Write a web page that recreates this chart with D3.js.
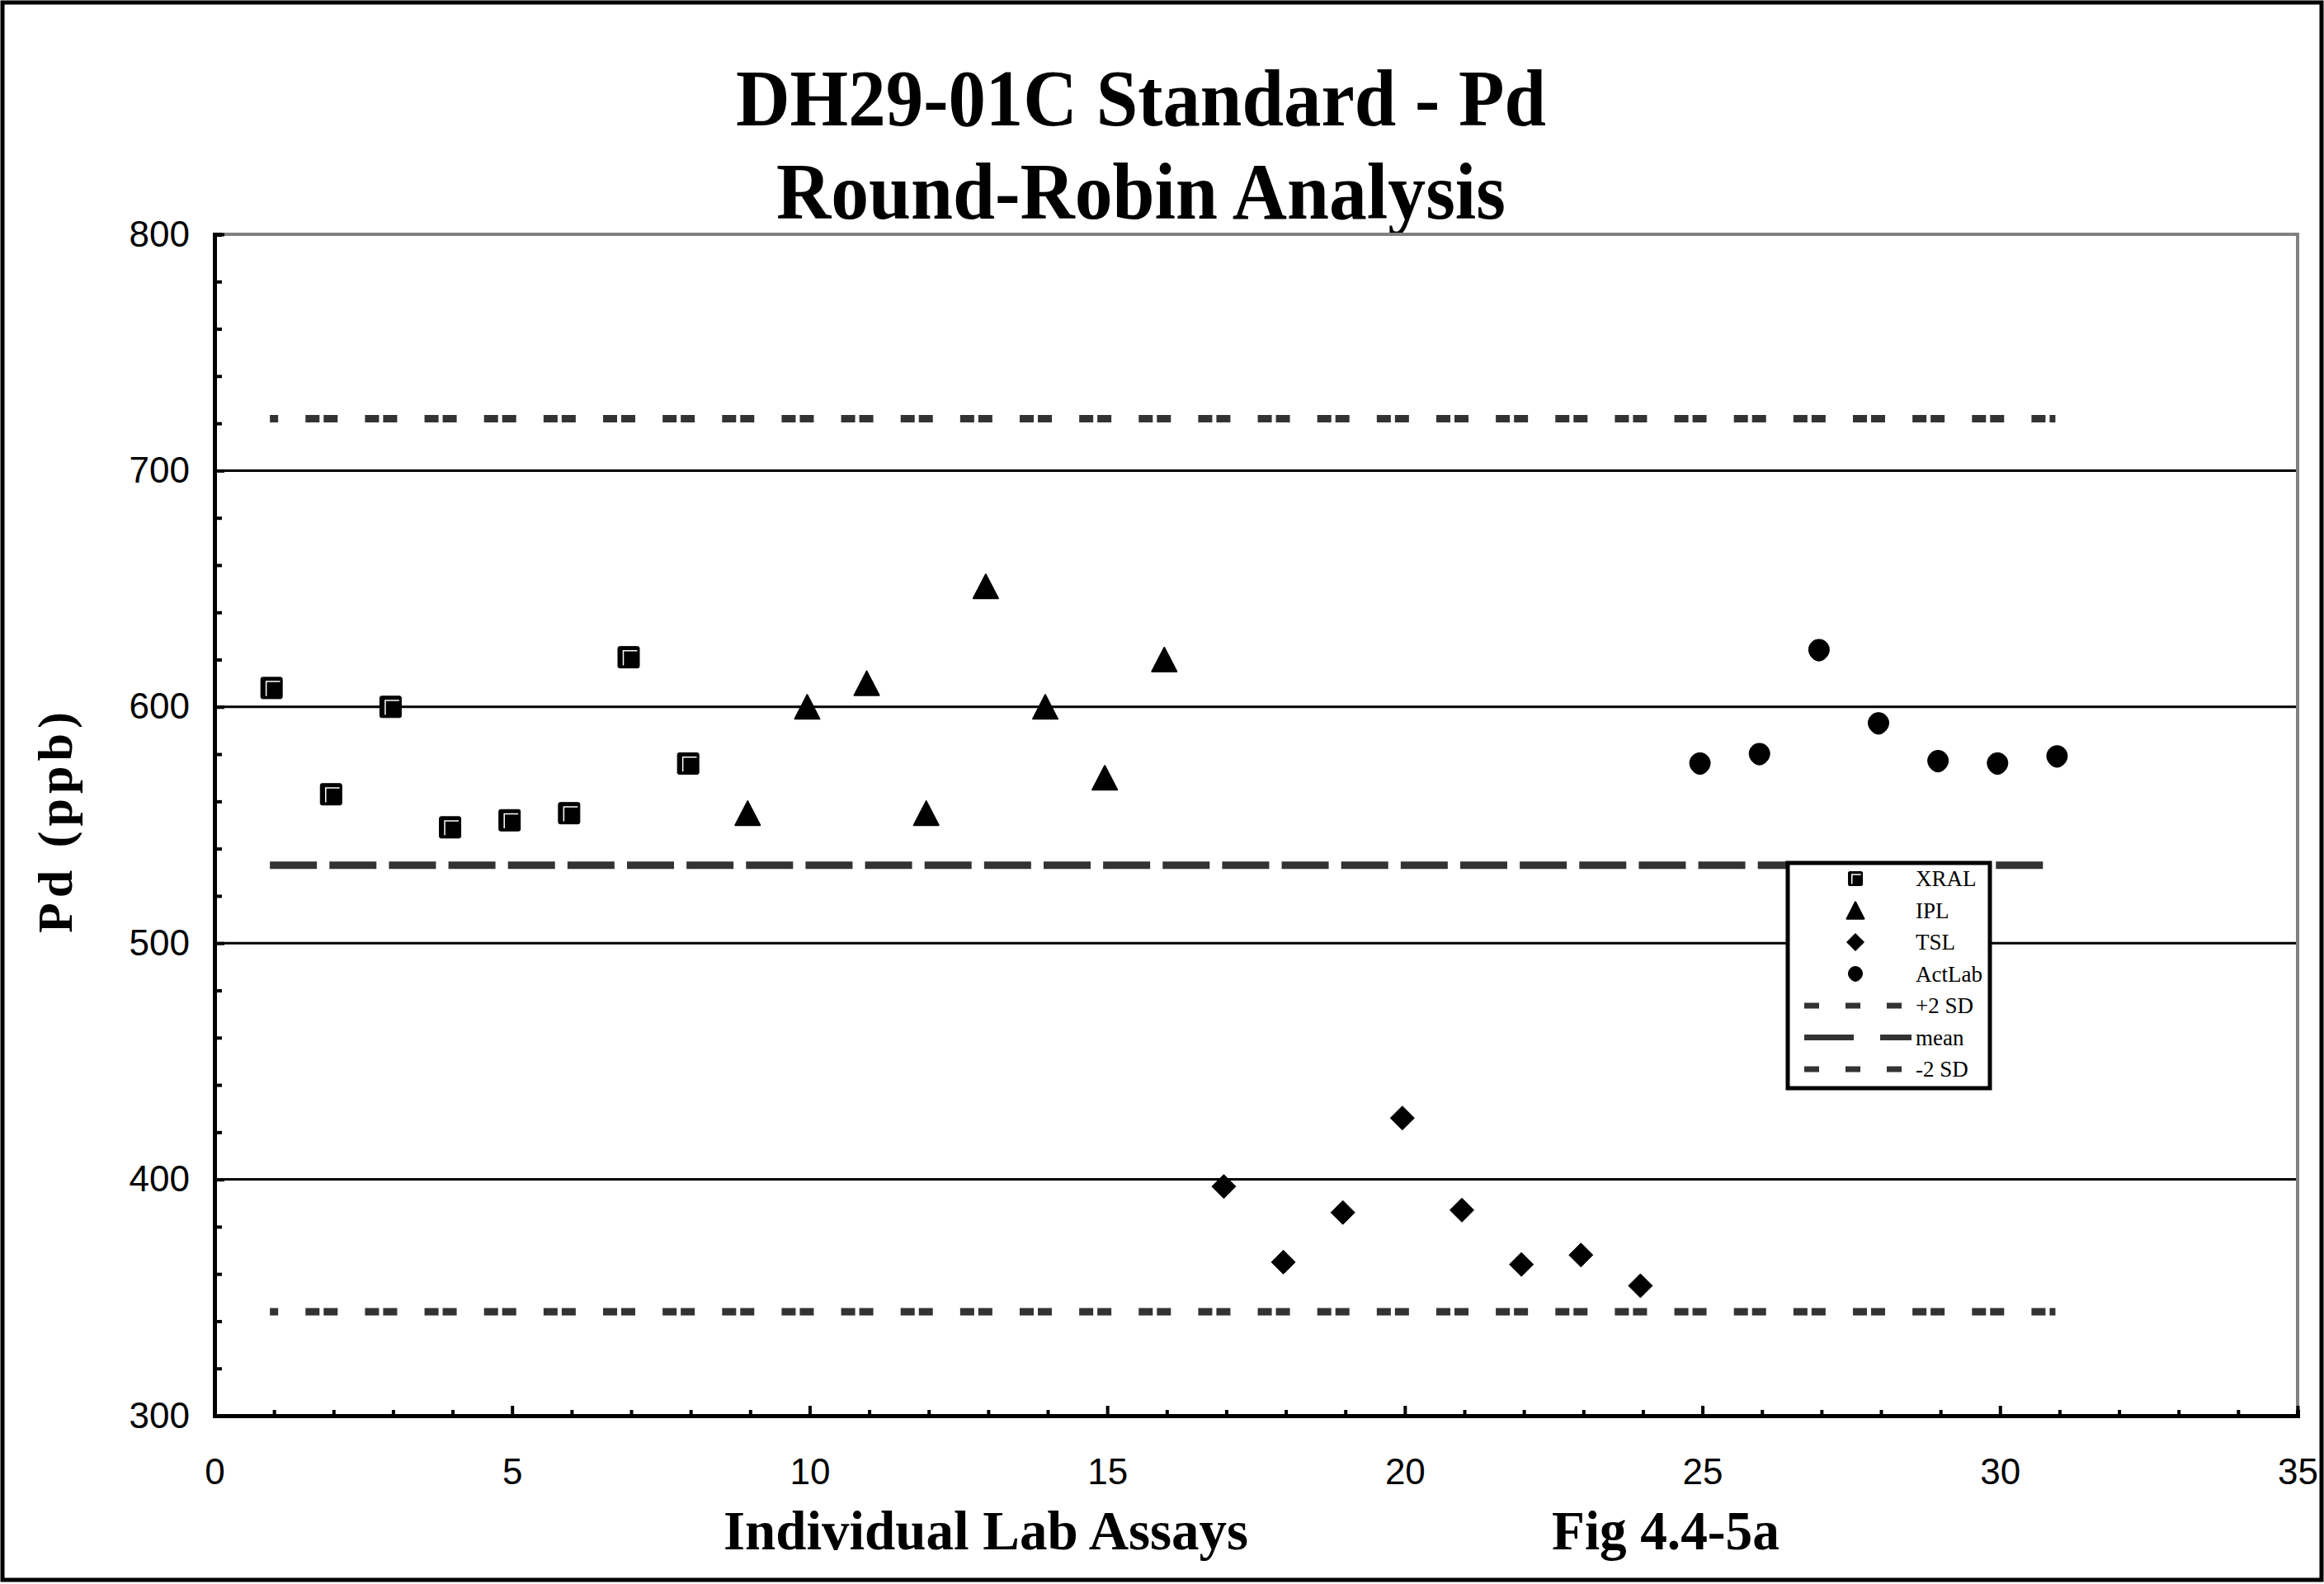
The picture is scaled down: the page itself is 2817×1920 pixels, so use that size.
<!DOCTYPE html>
<html>
<head>
<meta charset="utf-8">
<script src="https://cdn.jsdelivr.net/npm/d3@7"></script>
<style>
  body { margin: 0; background: #fff; }
  svg { display: block; }
</style>
</head>
<body>
<div id="chart"></div>
<script>
// values
const titleLines = ['DH29-01C Standard - Pd', 'Round-Robin Analysis']
const xTitle = 'Individual Lab Assays'
const figLabel = 'Fig 4.4-5a'
const yTitle = 'Pd (ppb)'

const labNames = ['XRAL', 'IPL', 'TSL', 'ActLab']
const xral = [608, 563, 600, 549, 552, 555, 621, 576]
const ipl = [555, 600, 610, 555, 651, 600, 570, 620]
const tsl = [397, 365, 386, 426, 387, 364, 368, 355]
const actlab = [576, 580, 624, 593, 577, 576, 579]

const refNames = ['+2 SD', 'mean', '-2 SD']
const refValues = [722, 533, 344]
const refRange = [1, 31]

const xTicks = [0, 5, 10, 15, 20, 25, 30, 35]
const yTicks = [300, 400, 500, 600, 700, 800]

;(function () {
  var W = 2817
  var H = 1920
  var serif = "'Liberation Serif', 'Times New Roman', serif"
  var sans = "'Liberation Sans', Arial, sans-serif"

  var svg = d3.select('#chart')
    .append('svg')
    .attr('width', W)
    .attr('height', H)

  var x = d3.scaleLinear().domain([0, 35]).range([260, 2785])
  var y = d3.scaleLinear().domain([300, 800]).range([1716, 284])

  // assay number runs on through the labs
  var series = [xral, ipl, tsl, actlab]
  var points = []
  var n = 0
  series.forEach(function (vals, i) {
    vals.forEach(function (v) {
      n += 1
      points.push({ lab: labNames[i], assay: n, value: v })
    })
  })

  // outer frame
  svg.append('rect')
    .attr('x', 3).attr('y', 3)
    .attr('width', W - 6).attr('height', H - 8)
    .attr('fill', 'none')
    .attr('stroke', '#000')
    .attr('stroke-width', 5)

  // titles
  var titleSizes = [982, 884]
  svg.selectAll('.title')
    .data(titleLines)
    .enter()
    .append('text')
    .attr('class', 'title')
    .attr('x', 1383)
    .attr('y', function (d, i) { return 152 + i * 113 })
    .attr('text-anchor', 'middle')
    .attr('textLength', function (d, i) { return titleSizes[i] })
    .attr('lengthAdjust', 'spacingAndGlyphs')
    .style('font-family', serif)
    .style('font-weight', 'bold')
    .style('font-size', '98px')
    .text(function (d) { return d })

  // grid lines
  svg.append('g')
    .selectAll('line')
    .data(yTicks.filter(function (d) { return d > 300 && d < 800 }))
    .enter()
    .append('line')
    .attr('x1', x(0)).attr('x2', x(35))
    .attr('y1', function (d) { return y(d) })
    .attr('y2', function (d) { return y(d) })
    .attr('stroke', '#000')
    .attr('stroke-width', 3)

  // gray top and right border of plot
  svg.append('path')
    .attr('d', 'M' + x(0) + ',' + y(800) + 'H' + x(35) + 'V' + y(300))
    .attr('fill', 'none')
    .attr('stroke', '#808080')
    .attr('stroke-width', 4)

  // reference lines, dash period = one assay step
  var unit = x(1) - x(0)
  var sdDash = [17, 5, 17, unit - 39].join(',')
  var meanDash = [57, unit - 57].join(',')
  var refDash = [sdDash, meanDash, sdDash]
  var refOffset = [29, 0, 29]
  svg.append('g')
    .selectAll('line')
    .data(refValues)
    .enter()
    .append('line')
    .attr('x1', x(refRange[0]) - 5).attr('x2', x(refRange[1]) - 5)
    .attr('y1', function (d) { return y(d) })
    .attr('y2', function (d) { return y(d) })
    .attr('stroke', '#333')
    .attr('stroke-width', 9)
    .attr('stroke-dasharray', function (d, i) { return refDash[i] })
    .attr('stroke-dashoffset', function (d, i) { return refOffset[i] })

  // markers
  function markerPath (lab, s) {
    var h = s / 2
    if (lab === 'XRAL') {
      var r = Math.max(1.5, s * 0.08)
      return 'M' + (-h + r) + ',' + (-h) + 'H' + (h - r) + 'Q' + h + ',' + (-h) + ' ' + h + ',' + (-h + r) +
        'V' + (h - r) + 'Q' + h + ',' + h + ' ' + (h - r) + ',' + h +
        'H' + (-h + r) + 'Q' + (-h) + ',' + h + ' ' + (-h) + ',' + (h - r) +
        'V' + (-h + r) + 'Q' + (-h) + ',' + (-h) + ' ' + (-h + r) + ',' + (-h) + 'Z'
    }
    if (lab === 'IPL') {
      var t = h * 0.97
      return 'M0,' + (-t) + 'L' + h + ',' + t + 'L' + (-h) + ',' + t + 'Z'
    }
    if (lab === 'TSL') {
      return 'M0,' + (-h) + 'L' + h + ',0L0,' + h + 'L' + (-h) + ',0Z'
    }
    // slightly egg shaped dot
    return 'M0,' + (-h * 1.05) +
      'C' + (h * 0.6) + ',' + (-h * 1.05) + ' ' + h + ',' + (-h * 0.55) + ' ' + h + ',' + (-h * 0.05) +
      'C' + h + ',' + (h * 0.55) + ' ' + (h * 0.45) + ',' + (h * 1.05) + ' 0,' + (h * 1.05) +
      'C' + (-h * 0.45) + ',' + (h * 1.05) + ' ' + (-h) + ',' + (h * 0.55) + ' ' + (-h) + ',' + (-h * 0.05) +
      'C' + (-h) + ',' + (-h * 0.55) + ' ' + (-h * 0.6) + ',' + (-h * 1.05) + ' 0,' + (-h * 1.05) + 'Z'
  }
  var plotSize = { XRAL: 26, IPL: 30, TSL: 29, ActLab: 25 }
  var legendSize = { XRAL: 17, IPL: 21, TSL: 21, ActLab: 17 }

  function drawMarker (g, lab, s) {
    g.append('path')
      .attr('d', markerPath(lab, s))
      .attr('fill', '#000')
      .attr('stroke', '#000')
      .attr('stroke-width', lab === 'IPL' ? 2 : 1)
      .attr('stroke-linejoin', 'round')
    if (lab === 'XRAL') {
      var h = s / 2
      g.append('path')
        .attr('d', 'M' + (-h * 0.5) + ',' + (h * 0.75) + 'V' + (-h * 0.6) + 'H' + (h * 0.8))
        .attr('fill', 'none')
        .attr('stroke', '#fff')
        .attr('stroke-width', 1.5)
    }
  }

  svg.append('g')
    .selectAll('g')
    .data(points)
    .enter()
    .append('g')
    .attr('transform', function (d) { return 'translate(' + (x(d.assay) - 3) + ',' + y(d.value) + ')' })
    .each(function (d) { drawMarker(d3.select(this), d.lab, plotSize[d.lab]) })

  // axes
  var yAxis = d3.axisLeft(y).tickValues(yTicks).tickSize(-12).tickSizeOuter(0).tickPadding(30)
  var yMinor = d3.axisLeft(y)
    .tickValues(d3.range(300, 801, 20).filter(function (d) { return d % 100 !== 0 }))
    .tickSize(-9).tickFormat('')
  var xAxis = d3.axisBottom(x).tickValues(xTicks).tickSize(-12).tickSizeOuter(0).tickPadding(52)
  var xMinor = d3.axisBottom(x)
    .tickValues(d3.range(1, 35).filter(function (d) { return d % 5 !== 0 }))
    .tickSize(-7).tickFormat('')

  svg.append('g').attr('class', 'axis').attr('transform', 'translate(' + x(0) + ',0)').call(yMinor)
  svg.append('g').attr('class', 'axis').attr('transform', 'translate(' + x(0) + ',0)').call(yAxis)
  svg.append('g').attr('class', 'axis').attr('transform', 'translate(0,' + y(300) + ')').call(xMinor)
  svg.append('g').attr('class', 'axis').attr('transform', 'translate(0,' + y(300) + ')').call(xAxis)

  svg.selectAll('.axis .domain').attr('stroke', '#000').attr('stroke-width', 5)
  svg.selectAll('.axis .tick line').attr('stroke', '#000').attr('stroke-width', 4)
  svg.selectAll('.axis text')
    .attr('fill', '#000')
    .style('font-family', sans)
    .style('font-size', '44px')

  // axis titles
  svg.append('text')
    .attr('transform', 'translate(67,997) rotate(-90)')
    .attr('text-anchor', 'middle')
    .attr('dominant-baseline', 'central')
    .attr('textLength', 268)
    .attr('lengthAdjust', 'spacing')
    .style('font-family', serif)
    .style('font-weight', 'bold')
    .style('font-size', '60px')
    .text(yTitle)

  svg.append('text')
    .attr('x', 1195).attr('y', 1878)
    .attr('text-anchor', 'middle')
    .attr('textLength', 636)
    .attr('lengthAdjust', 'spacingAndGlyphs')
    .style('font-family', serif)
    .style('font-weight', 'bold')
    .style('font-size', '68px')
    .text(xTitle)

  svg.append('text')
    .attr('x', 2019).attr('y', 1878)
    .attr('text-anchor', 'middle')
    .attr('textLength', 276)
    .attr('lengthAdjust', 'spacingAndGlyphs')
    .style('font-family', serif)
    .style('font-weight', 'bold')
    .style('font-size', '68px')
    .text(figLabel)

  // legend
  var legend = svg.append('g').attr('transform', 'translate(2167,1046)')
  legend.append('rect')
    .attr('width', 245).attr('height', 273)
    .attr('fill', '#fff')
    .attr('stroke', '#000')
    .attr('stroke-width', 5)

  var rowY = function (i) { return 19 + i * 38.5 }
  var items = legend.selectAll('.item')
    .data(labNames.concat(refNames))
    .enter()
    .append('g')
    .attr('class', 'item')
    .attr('transform', function (d, i) { return 'translate(0,' + rowY(i) + ')' })

  items.filter(function (d, i) { return i < labNames.length })
    .append('g')
    .attr('transform', 'translate(82,0)')
    .each(function (d) { drawMarker(d3.select(this), d, legendSize[d]) })

  var legDash = ['18,32', '60,32', '18,32']
  items.filter(function (d, i) { return i >= labNames.length })
    .append('line')
    .attr('x1', 20)
    .attr('x2', function (d) { return d === 'mean' ? 150 : 138 })
    .attr('stroke', '#333')
    .attr('stroke-width', 7)
    .attr('stroke-dasharray', function (d) { return legDash[refNames.indexOf(d)] })

  items.append('text')
    .attr('x', 155)
    .attr('dy', '0.35em')
    .style('font-family', serif)
    .style('font-size', '27px')
    .text(function (d) { return d })
})()
</script>
</body>
</html>
